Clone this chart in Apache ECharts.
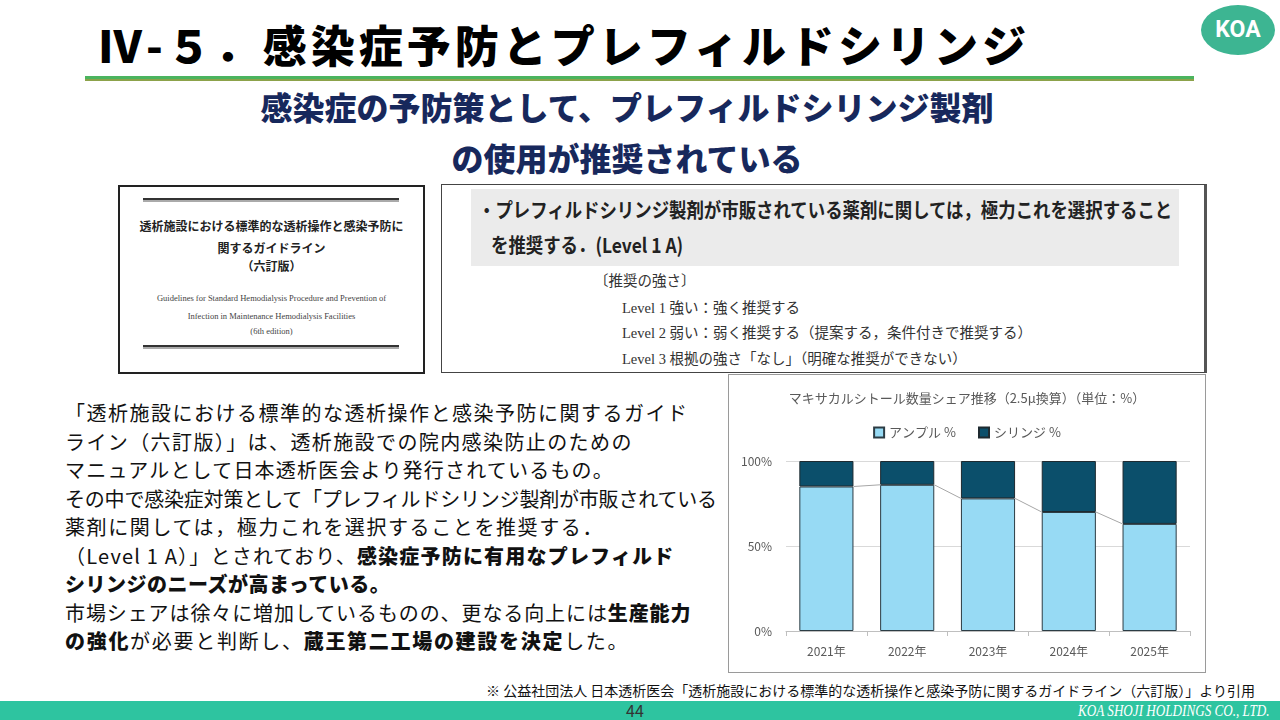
<!DOCTYPE html>
<html>
<head>
<meta charset="utf-8">
<script src="https://cdn.jsdelivr.net/npm/echarts@6/dist/echarts.min.js"></script>
<style>
  html, body { margin:0; padding:0; background:#fff; }
  body { width:1280px; height:720px; position:relative; overflow:hidden; font-family:"Noto Sans CJK JP","Noto Sans",sans-serif; color:#111; }
  .abs { position:absolute; white-space:nowrap; }
  #title { left:98px; top:22px; font-size:44px; line-height:44px; font-weight:900; letter-spacing:4px; color:#000; }
  #koa { left:1201px; top:5px; width:74px; height:50px; border-radius:50%; background:#3DB592; color:#fff; font-family:Roboto,"Noto Sans",sans-serif; font-weight:700; font-size:23px; line-height:50px; text-align:center; }
  #rule { left:85px; top:76px; width:1109px; height:3px; background:#4BB45E; border-bottom:2px solid #8CA24A; }
  #sub { left:0; top:81px; width:1254px; text-align:center; font-size:32px; line-height:51px; font-weight:900; color:#17285C; }
  #cover { left:118px; top:185px; width:303px; height:185px; border:2px solid #222; background:#fff; }
  .dbl { position:absolute; left:23px; width:256px; height:2px; background:#333; border-bottom:2px solid #aaa; }
  .cj { position:absolute; left:0; width:303px; text-align:center; font-size:12px; font-weight:700; color:#222; }
  .ce { position:absolute; left:0; width:303px; text-align:center; font-size:8.5px; font-family:"Liberation Serif",serif; color:#444; }
  #guide { left:441px; top:184px; width:762px; height:187px; border:1px solid #444; border-right:3px solid #555; background:#fff; }
  #band { position:absolute; left:29px; top:4px; width:708px; height:77px; background:#EBEBEB; }
  .gl { position:absolute; font-size:20px; font-weight:700; color:#222; transform-origin:left center; transform:scaleX(0.87); white-space:nowrap; }
  .sl { position:absolute; font-size:14.5px; font-family:"Liberation Serif","Noto Sans CJK JP",serif; color:#333; white-space:nowrap; }
  .bl { position:absolute; left:65px; font-size:20px; line-height:28.5px; height:28.5px; color:#111; white-space:nowrap; }
  .bl b { font-weight:900; }
  #chartbox { left:728px; top:374px; width:476px; height:297px; border:1px solid #9A9A9A; background:#fff; }
  #chart { position:absolute; left:0; top:0; width:476px; height:297px; }
  #note { right:25px; top:680px; font-size:14px; line-height:20px; color:#111; }
  #foot { left:0; top:701px; width:1280px; height:19px; background:#2EC4A0; }
  #pg { left:610px; top:701px; width:50px; text-align:center; font-size:16px; line-height:19px; color:#333; }
  #co { right:10px; top:701px; font-family:"Liberation Serif",serif; font-style:italic; font-size:16px; line-height:19px; color:#fff; transform-origin:right center; transform:scaleX(0.82); }
</style>
</head>
<body>
<div class="abs" id="title">Ⅳ-５．感染症予防とプレフィルドシリンジ</div>
<div class="abs" id="koa">KOA</div>
<div class="abs" id="rule"></div>
<div class="abs" id="sub">感染症の予防策として、プレフィルドシリンジ製剤<br>の使用が推奨されている</div>

<div class="abs" id="cover">
  <div class="dbl" style="top:11px"></div>
  <div class="cj" style="top:30px">透析施設における標準的な透析操作と感染予防に</div>
  <div class="cj" style="top:52px">関するガイドライン</div>
  <div class="cj" style="top:70px">（六訂版）</div>
  <div class="ce" style="top:106px">Guidelines for Standard Hemodialysis Procedure and Prevention of</div>
  <div class="ce" style="top:124px">Infection in Maintenance Hemodialysis Facilities</div>
  <div class="ce" style="top:139px">(6th edition)</div>
  <div class="dbl" style="top:158px"></div>
</div>

<div class="abs" id="guide">
  <div id="band"></div>
  <div class="gl" style="left:36px; top:10px;">・プレフィルドシリンジ製剤が市販されている薬剤に関しては，極力これを選択すること</div>
  <div class="gl" style="left:49px; top:45px;">を推奨する．(Level 1 A)</div>
  <div class="sl" style="left:152px; top:84px;">〔推奨の強さ〕</div>
  <div class="sl" style="left:180px; top:111px;">Level 1 強い：強く推奨する</div>
  <div class="sl" style="left:180px; top:136px;">Level 2 弱い：弱く推奨する（提案する，条件付きで推奨する）</div>
  <div class="sl" style="left:180px; top:162px;">Level 3 根拠の強さ「なし」（明確な推奨ができない）</div>
</div>

<div class="bl" style="top:399px; letter-spacing:1.5px;">「透析施設における標準的な透析操作と感染予防に関するガイド</div>
<div class="bl" style="top:427.5px; letter-spacing:1.4px;">ライン（六訂版）」は、透析施設での院内感染防止のための</div>
<div class="bl" style="top:456px; letter-spacing:1.2px;">マニュアルとして日本透析医会より発行されているもの。</div>
<div class="bl" style="top:484.5px; letter-spacing:-0.2px;">その中で感染症対策として「プレフィルドシリンジ製剤が市販されている</div>
<div class="bl" style="top:513px; letter-spacing:1.6px;">薬剤に関しては，極力これを選択することを推奨する．</div>
<div class="bl" style="top:541.5px; letter-spacing:1.2px;">（Level 1 A）」とされており、<b>感染症予防に有用なプレフィルド</b></div>
<div class="bl" style="top:570px; letter-spacing:0.5px;"><b>シリンジのニーズが高まっている。</b></div>
<div class="bl" style="top:598.5px; letter-spacing:0.9px;">市場シェアは徐々に増加しているものの、更なる向上には<b>生産能力</b></div>
<div class="bl" style="top:627px; letter-spacing:1.7px;"><b>の強化</b>が必要と判断し、<b>蔵王第二工場の建設を決定</b>した。</div>

<div class="abs" id="chartbox"><div id="chart"></div></div>

<div class="abs" id="note">※ 公益社団法人 日本透析医会「透析施設における標準的な透析操作と感染予防に関するガイドライン（六訂版）」より引用</div>
<div class="abs" id="foot"></div>
<div class="abs" id="pg">44</div>
<div class="abs" id="co">KOA SHOJI HOLDINGS CO., LTD.</div>

<script>
const chartTitle = 'マキサカルシトール数量シェア推移（2.5μ換算）（単位：%）';
const years = ['2021年', '2022年', '2023年', '2024年', '2025年'];
const ampoule = [85, 86, 78, 70, 63];
const syringe = [15, 14, 22, 30, 37];
const seriesNames = ['アンプル %', 'シリンジ %'];
const yTicks = [0, 50, 100];

const barFrac = 0.67;
const seriesLineData = ampoule.slice(0, -1).map((v, i) => [i, v, ampoule[i + 1]]);

const chart = echarts.init(document.getElementById('chart'));
chart.setOption({
  animation: false,
  textStyle: { fontFamily: '"Noto Sans CJK JP","Noto Sans",sans-serif' },
  title: {
    text: chartTitle, left: 'center', top: 12,
    textStyle: { fontSize: 13, fontWeight: 'normal', color: '#595959' }
  },
  legend: {
    data: seriesNames, top: 46, left: 'center', itemWidth: 10, itemHeight: 10, itemGap: 22,
    icon: 'rect',
    textStyle: { fontSize: 13, color: '#595959' }
  },
  grid: { left: 57, right: 15, top: 86, bottom: 41, containLabel: false },
  xAxis: {
    type: 'category', data: years,
    axisLine: { lineStyle: { color: '#BFBFBF' } },
    axisTick: { show: true, length: 5, lineStyle: { color: '#BFBFBF' } },
    axisLabel: { color: '#595959', fontSize: 12, margin: 14 }
  },
  yAxis: {
    type: 'value', min: yTicks[0], max: yTicks[yTicks.length - 1], interval: yTicks[1] - yTicks[0],
    axisLine: { show: false }, axisTick: { show: false },
    axisLabel: { color: '#595959', fontSize: 12, formatter: '{value}%', margin: 14 },
    splitLine: { lineStyle: { color: '#D9D9D9' } }
  },
  series: [
    {
      name: seriesNames[0], type: 'bar', stack: 'share', data: ampoule,
      barCategoryGap: '33%',
      itemStyle: { color: '#97DAF4', borderColor: '#2C3C44', borderWidth: 1 }
    },
    {
      name: seriesNames[1], type: 'bar', stack: 'share', data: syringe,
      itemStyle: { color: '#0B4F6B', borderColor: '#1E2A30', borderWidth: 1 }
    },
    {
      type: 'custom', name: 'serieslines', data: seriesLineData, z: 1, silent: true,
      encode: { x: 0, y: 1 },
      renderItem: function (params, api) {
        const i = api.value(0);
        const p1 = api.coord([i, api.value(1)]);
        const p2 = api.coord([i + 1, api.value(2)]);
        const half = api.size([1, 0])[0] * barFrac / 2;
        return {
          type: 'line',
          shape: { x1: p1[0] + half, y1: p1[1], x2: p2[0] - half, y2: p2[1] },
          style: { stroke: '#A6A6A6', lineWidth: 1 }
        };
      }
    }
  ]
});
</script>
</body>
</html>
